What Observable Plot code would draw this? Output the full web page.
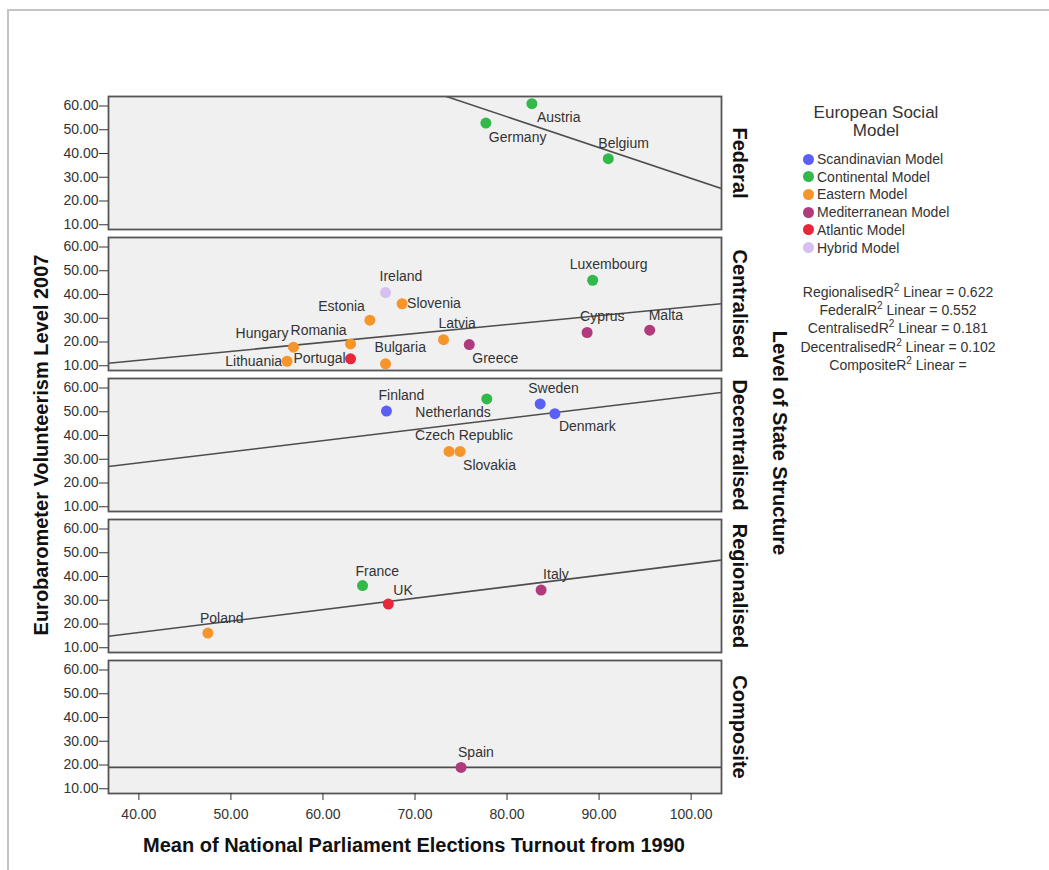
<!DOCTYPE html>
<html>
<head>
<meta charset="utf-8">
<script src="https://cdn.jsdelivr.net/npm/d3@7"></script>
<script src="https://cdn.jsdelivr.net/npm/@observablehq/plot@0.6"></script>
<style>
  body { margin: 0; background: #fff; font-family: "Liberation Sans", Arial, sans-serif; }
  #wrap { position: relative; width: 1049px; height: 870px; overflow: hidden; }
  #wrap svg { position: absolute; left: 0; top: 0; }
  .edge { position: absolute; left: 7px; top: 9px; width: 1100px; height: 900px;
          border-top: 2px solid #c4c4c4; border-left: 2px solid #c4c4c4; }
  .title { position: absolute; font-weight: bold; font-size: 20px; color: #111; white-space: nowrap;
           transform: translate(-50%, -50%); }
  .legend-title { position: absolute; left: 776px; top: 104px; width: 200px; text-align: center;
                  font-size: 17px; line-height: 18px; color: #333; }
  .legend-item { position: absolute; left: 803px; height: 18px; line-height: 18px; font-size: 14px;
                 color: #333; white-space: nowrap; display: flex; align-items: center; }
  .legend-item span.sw { display: inline-block; width: 11px; height: 11px; border-radius: 50%; margin-right: 3px; }
  .fit { position: absolute; left: 798px; top: 283px; width: 200px; text-align: center;
         font-size: 14px; line-height: 18.2px; color: #333; }
  .fit sup { font-size: 10px; line-height: 0; }
</style>
</head>
<body>
<div id="wrap">
  <div class="edge"></div>
</div>
<script>
// Countries with mean parliamentary turnout since 1990 and 2007 volunteering level
const countries = ["Austria", "Germany", "Belgium",
  "Ireland", "Estonia", "Slovenia", "Hungary", "Romania", "Lithuania", "Portugal", "Bulgaria",
  "Latvia", "Greece", "Luxembourg", "Cyprus", "Malta",
  "Finland", "Netherlands", "Sweden", "Denmark", "Czech Republic", "Slovakia",
  "France", "UK", "Poland", "Italy",
  "Spain"];
const turnout = [82.7, 77.7, 91.0,
  66.8, 65.1, 68.6, 56.8, 63.0, 56.1, 63.0, 66.8,
  73.1, 75.9, 89.3, 88.7, 95.5,
  66.9, 77.8, 83.6, 85.2, 73.7, 74.9,
  64.3, 67.1, 47.5, 83.7,
  75.0];
const volunteering = [61.0, 52.8, 37.8,
  40.8, 29.2, 36.1, 17.8, 19.2, 11.9, 12.9, 10.8,
  21.0, 18.9, 46.0, 24.0, 25.0,
  50.3, 55.4, 53.3, 49.2, 33.3, 33.3,
  36.2, 28.4, 16.2, 34.3,
  19.0];
const structure = ["Federal", "Federal", "Federal",
  "Centralised", "Centralised", "Centralised", "Centralised", "Centralised", "Centralised", "Centralised", "Centralised",
  "Centralised", "Centralised", "Centralised", "Centralised", "Centralised",
  "Decentralised", "Decentralised", "Decentralised", "Decentralised", "Decentralised", "Decentralised",
  "Regionalised", "Regionalised", "Regionalised", "Regionalised",
  "Composite"];
const socialModel = ["Continental", "Continental", "Continental",
  "Hybrid", "Eastern", "Eastern", "Eastern", "Eastern", "Eastern", "Atlantic", "Eastern",
  "Eastern", "Mediterranean", "Continental", "Mediterranean", "Mediterranean",
  "Scandinavian", "Continental", "Scandinavian", "Scandinavian", "Eastern", "Eastern",
  "Continental", "Atlantic", "Eastern", "Mediterranean",
  "Mediterranean"];

const structureOrder = ["Federal", "Centralised", "Decentralised", "Regionalised", "Composite"];
const modelNames = ["Scandinavian", "Continental", "Eastern", "Mediterranean", "Atlantic", "Hybrid"];
const modelLabels = ["Scandinavian Model", "Continental Model", "Eastern Model", "Mediterranean Model", "Atlantic Model", "Hybrid Model"];
const modelColors = ["#5b5ff5", "#33b94a", "#f7952a", "#b03a7c", "#e8283a", "#d7bff0"];

const xTicks = [40, 50, 60, 70, 80, 90, 100];
const yTicks = [10, 20, 30, 40, 50, 60];

// R² of each linear fit as reported beside the legend
const fitGroups = ["Regionalised", "Federal", "Centralised", "Decentralised", "Composite"];
const fitR2 = ["0.622", "0.552", "0.181", "0.102", ""];

// Where each country's name sits relative to its dot: [anchor, dx, dy]
const labelPlacement = {
  "Austria": ["start", 5, 14], "Germany": ["start", 3, 14], "Belgium": ["start", -10, -15],
  "Ireland": ["start", -6, -16], "Estonia": ["end", -5, -14], "Slovenia": ["start", 5, 0],
  "Hungary": ["end", -5, -14], "Romania": ["end", -4, -13], "Lithuania": ["end", -5, 0],
  "Portugal": ["end", -5, 0], "Bulgaria": ["start", -11, -16], "Latvia": ["start", -5, -16],
  "Greece": ["start", 3, 14], "Luxembourg": ["middle", 16, -16], "Cyprus": ["start", -7, -16],
  "Malta": ["start", -1, -15], "Finland": ["start", -8, -16], "Netherlands": ["end", 4, 14],
  "Sweden": ["start", -12, -15], "Denmark": ["start", 4, 13], "Czech Republic": ["start", -34, -16],
  "Slovakia": ["start", 3, 14], "France": ["start", -7, -14], "UK": ["start", 5, -14],
  "Poland": ["start", -8, -15], "Italy": ["start", 2, -16], "Spain": ["start", -3, -15]
};

const rows = countries.map((name, i) => ({
  name, turnout: turnout[i], volunteering: volunteering[i], structure: structure[i], model: socialModel[i]
}));

const xDomain = [36.7, 103.3];
const yDomain = [8, 64];

// Least-squares line for each state structure, extended across the full x range
const fitRows = structureOrder.flatMap(s => {
  const g = rows.filter(r => r.structure === s);
  const mx = d3.mean(g, r => r.turnout), my = d3.mean(g, r => r.volunteering);
  const sxx = d3.sum(g, r => (r.turnout - mx) ** 2);
  const sxy = d3.sum(g, r => (r.turnout - mx) * (r.volunteering - my));
  const b = sxx > 0 ? sxy / sxx : 0;
  return xDomain.map(x => ({structure: s, turnout: x, volunteering: my + b * (x - mx)}));
});

const nameMarks = rows.map(r => {
  const [anchor, dx, dy] = labelPlacement[r.name];
  return Plot.text([r], {
    x: "turnout", y: "volunteering", fy: "structure", text: "name",
    textAnchor: anchor, dx, dy, fontSize: 14, fill: "#333"
  });
});

const chart = Plot.plot({
  width: 1049, height: 870,
  marginLeft: 108, marginRight: 328, marginTop: 94, marginBottom: 75,
  style: {fontFamily: '"Liberation Sans", Arial, sans-serif', background: "transparent", overflow: "visible"},
  x: {domain: xDomain},
  y: {domain: yDomain},
  fy: {domain: structureOrder, paddingInner: 0.058, paddingOuter: 0, axis: null},
  color: {domain: modelNames, range: modelColors},
  marks: [
    Plot.frame({fill: "#f0f0f0"}),
    Plot.line(fitRows, {x: "turnout", y: "volunteering", fy: "structure", z: "structure",
      stroke: "#4d4d4d", strokeWidth: 1.6, clip: true}),
    Plot.dot(rows, {x: "turnout", y: "volunteering", fy: "structure", fill: "model", r: 5.5}),
    ...nameMarks,
    Plot.frame({stroke: "#555", strokeWidth: 1.8}),
    Plot.axisY({ticks: yTicks, tickFormat: d3.format(".2f"), tickSize: 9, tickPadding: 1,
      label: null, fontSize: 14, color: "#333"}),
    Plot.axisX({ticks: xTicks, tickFormat: d3.format(".2f"), tickSize: 7, tickPadding: 9,
      label: null, fontSize: 14, color: "#333"}),
    // facet names, centred vertically on each panel, right of the frame
    Plot.text(structureOrder, {fy: d => d, y: () => (yDomain[0] + yDomain[1]) / 2,
      text: d => d, frameAnchor: "right", textAnchor: "middle", lineAnchor: "middle",
      rotate: 90, dx: 18, fontSize: 20, fontWeight: "bold", fill: "#111"})
  ]
});

const wrap = document.getElementById("wrap");
wrap.appendChild(chart);

function addTitle(text, x, y, rotate) {
  const el = document.createElement("div");
  el.className = "title";
  el.textContent = text;
  el.style.left = x + "px";
  el.style.top = y + "px";
  if (rotate) el.style.transform = `translate(-50%, -50%) rotate(${rotate}deg)`;
  wrap.appendChild(el);
}
addTitle("Mean of National Parliament Elections Turnout from 1990", 414, 845, 0);
addTitle("Eurobarometer Volunteerism Level 2007", 41, 445, -90);
addTitle("Level of State Structure", 779, 443, 90);

const lt = document.createElement("div");
lt.className = "legend-title";
lt.innerHTML = "European Social<br>Model";
wrap.appendChild(lt);

modelLabels.forEach((label, i) => {
  const item = document.createElement("div");
  item.className = "legend-item";
  item.style.top = (159 + 17.7 * i - 9) + "px";
  const sw = document.createElement("span");
  sw.className = "sw";
  sw.style.background = modelColors[i];
  item.appendChild(sw);
  item.appendChild(document.createTextNode(label));
  wrap.appendChild(item);
});

const fit = document.createElement("div");
fit.className = "fit";
fit.innerHTML = fitGroups.map((g, i) => `${g}R<sup>2</sup> Linear = ${fitR2[i]}`).join("<br>");
wrap.appendChild(fit);
</script>
</body>
</html>
